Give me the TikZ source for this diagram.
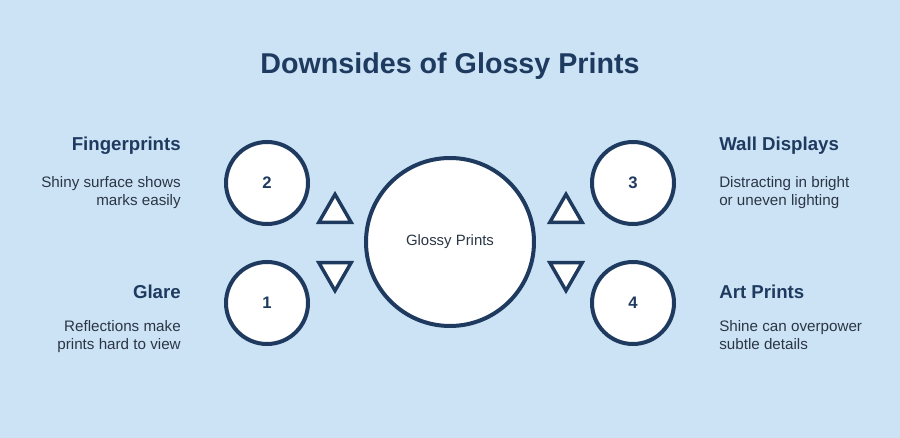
\documentclass[tikz,border=0pt]{standalone}
\usepackage{fontspec}
\setmainfont{Liberation Sans}
\usetikzlibrary{shapes.geometric, positioning}
\definecolor{bgblue}{HTML}{CCE3F6}
\definecolor{navy}{HTML}{1F3A5F}
\definecolor{textgray}{HTML}{2B3645}
\tikzstyle{hub} = [circle, minimum size=126pt, inner sep=0pt, draw=navy, line width=3pt, fill=white, text=textgray, font=\fontsize{11.2}{13}\selectfont]
\tikzstyle{numcirc} = [circle, minimum size=61.5pt, inner sep=0pt, draw=navy, line width=3pt, fill=white, text=navy, font=\fontsize{12.5}{14}\selectfont\bfseries]
\tikzstyle{tri} = [regular polygon, regular polygon sides=3, minimum size=28pt, draw=navy, line width=2.6pt, fill=white, inner sep=0pt]
\tikzstyle{heading} = [text=navy, font=\fontsize{14}{16}\selectfont\bfseries, inner sep=0pt]
\tikzstyle{desc} = [text=textgray, font=\fontsize{11.4}{13.5}\selectfont, inner sep=0pt]

\begin{document}
\begin{tikzpicture}[x=0.75pt, y=-0.75pt]
\fill[bgblue] (0,0) rectangle (900,438);
\useasboundingbox (0,0) rectangle (900,438);

\node (title) [text=navy, font=\fontsize{21.5}{24}\selectfont\bfseries] at (450,66) {Downsides of Glossy Prints};

\node (hub) [hub] at (450,242) {Glossy Prints};

\node (n2) [numcirc] at (267,183) {2};
\node (n1) [numcirc] at (267,303) {1};
\node (n3) [numcirc] at (633,183) {3};
\node (n4) [numcirc] at (633,303) {4};

% triangles between the circles
\node (tlu) [tri] at (335,213) {};
\node (tld) [tri, shape border rotate=180] at (335,272) {};
\node (tru) [tri] at (566,213) {};
\node (trd) [tri, shape border rotate=180] at (566,272) {};

% left side texts
\node (h2) [heading, anchor=east] at (181,146) {Fingerprints};
\node (d2) [desc, align=right, below=16pt of h2.south east, anchor=north east] {Shiny surface shows\\marks easily};
\node (h1) [heading, anchor=east] at (181,292) {Glare};
\node (d1) [desc, align=right, below=16pt of h1.south east, anchor=north east] {Reflections make\\prints hard to view};

% right side texts
\node (h3) [heading, anchor=west] at (719,146) {Wall Displays};
\node (d3) [desc, align=left, below=16pt of h3.south west, anchor=north west] {Distracting in bright\\or uneven lighting};
\node (h4) [heading, anchor=west] at (719,292) {Art Prints};
\node (d4) [desc, align=left, below=16pt of h4.south west, anchor=north west] {Shine can overpower\\subtle details};
\end{tikzpicture}
\end{document}
